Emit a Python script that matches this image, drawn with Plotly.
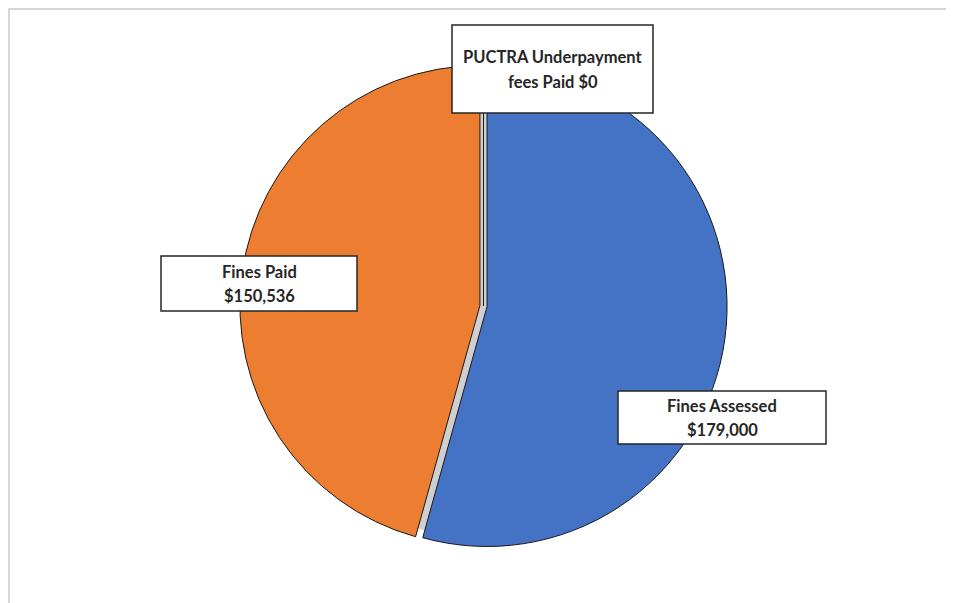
import plotly.graph_objects as go

# ---- data ----
categories = ["Fines Assessed", "Fines Paid", "PUCTRA Underpayment fees Paid"]
values = [179000, 150536, 0]
label_line1 = ["Fines Assessed", "Fines Paid", "PUCTRA Underpayment"]
label_line2 = ["$179,000", "$150,536", "fees Paid $0"]
colors = ["#4472C4", "#ED7D31", "#A5A5A5"]

# the page has an 8px body margin, so the figure is drawn 8px in
OFF = 8
W, H = 954 - OFF, 603 - OFF

def px(x):
    return (x - OFF) / W

def py(y):
    return 1 - (y - OFF) / H

fig = go.Figure()

fig.add_trace(go.Pie(
    labels=categories,
    values=values,
    sort=False,
    direction="clockwise",
    rotation=0,
    pull=[0.015, 0.015, 0],
    marker=dict(colors=colors, line=dict(color="#1a1a1a", width=1)),
    textinfo="none",
    hoverinfo="label+value",
    showlegend=False,
    domain=dict(x=[px(483.5 - 300), px(483.5 + 300)],
                y=[py(306 + 243.6), py(306 - 243.6)]),
))

# label boxes (left, top, right, bottom) and text line centres
boxes = [(618, 391, 826, 444), (161, 256, 357, 311), (452, 25, 653, 113)]
line_y = [(406, 430), (272, 296), (57, 82)]

shapes = []
# shadow-like grey disc behind the pie (shows through the slice gaps)
R = 232
shapes.append(dict(type="circle", xref="paper", yref="paper", layer="below",
                   x0=px(483.5 - R), x1=px(483.5 + R), y0=py(306 + R), y1=py(306 - R),
                   fillcolor="#cfcfcf", line=dict(width=0)))
# chart frame (top and left edges visible)
shapes.append(dict(type="line", xref="paper", yref="paper", x0=px(8.5), x1=1, y0=py(9.0), y1=py(9.0),
                   line=dict(color="#d6d6d6", width=2)))
shapes.append(dict(type="line", xref="paper", yref="paper", x0=px(9.0), x1=px(9.0), y0=0, y1=py(8.5),
                   line=dict(color="#d6d6d6", width=2)))

annotations = []
for (l, t, r, b), (y1, y2), a, bb in zip(boxes, line_y, label_line1, label_line2):
    shapes.append(dict(type="rect", xref="paper", yref="paper", layer="above",
                       x0=px(l), x1=px(r), y0=py(b), y1=py(t),
                       fillcolor="white", line=dict(color="#262626", width=1.5)))
    cx = (l + r) / 2
    for yy, txt in ((y1, a), (y2, bb)):
        annotations.append(dict(xref="paper", yref="paper", x=px(cx), y=py(yy),
                                xanchor="center", yanchor="middle", showarrow=False,
                                text="<b>" + txt + "</b>",
                                font=dict(family="Lato", size=16.5, color="#262626")))

fig.update_layout(
    width=W, height=H,
    margin=dict(l=0, r=0, t=0, b=0),
    paper_bgcolor="white",
    plot_bgcolor="white",
    shapes=shapes,
    annotations=annotations,
)

fig.write_html("out.html")
